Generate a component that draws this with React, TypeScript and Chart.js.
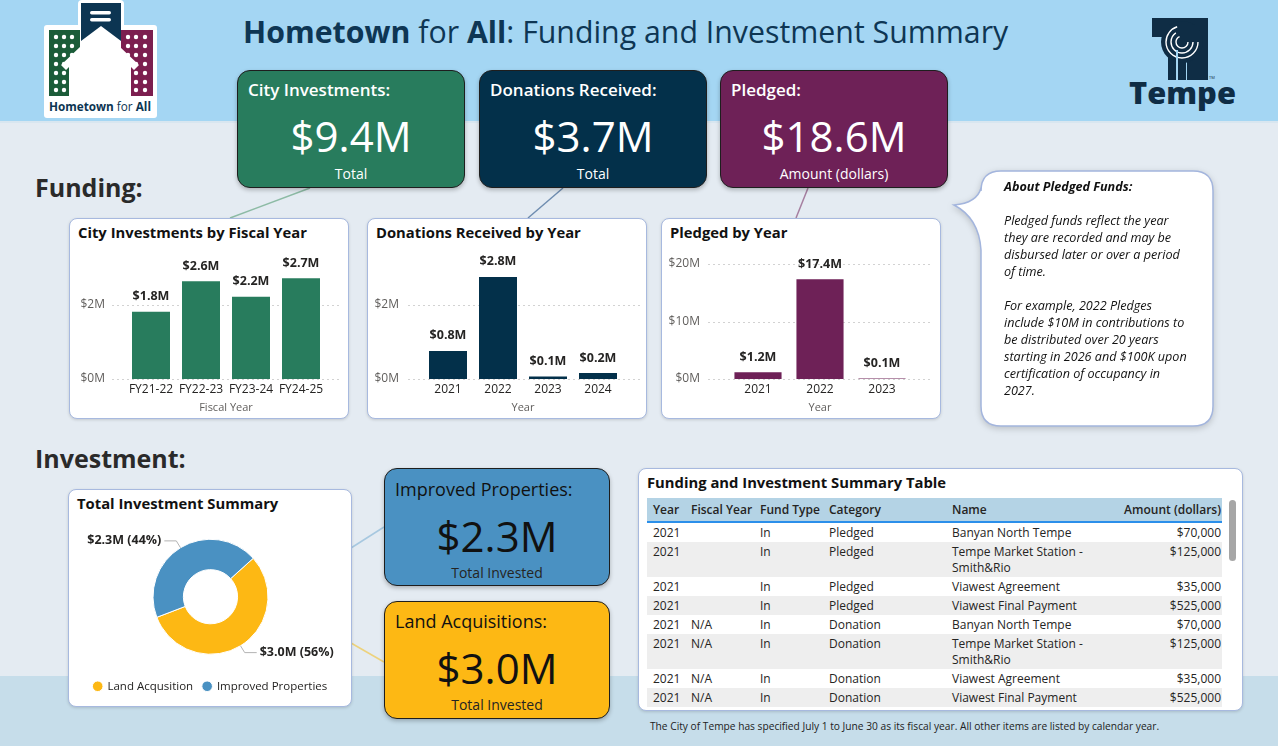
import React, { useEffect, useRef } from "react";
import { Chart, registerables } from "chart.js";

Chart.register(...registerables);

const FONT = "'Open Sans', 'Noto Sans', 'DejaVu Sans', sans-serif";

// ---------------- Data ----------------
const cityFiscalYears = ["FY21-22", "FY22-23", "FY23-24", "FY24-25"];
const cityInvestments = [1.82, 2.64, 2.22, 2.72]; // $M
const cityTicks = [0, 2];

const donationYears = ["2021", "2022", "2023", "2024"];
const donationsReceived = [0.76, 2.76, 0.07, 0.16]; // $M
const donationTicks = [0, 2];

const pledgedYears = ["2021", "2022", "2023"];
const pledgedAmounts = [1.17, 17.36, 0.07]; // $M
const pledgedTicks = [0, 10, 20];

const investmentCategories = ["Land Acqusition", "Improved Properties"];
const investmentAmounts = [2.96, 2.34]; // $M

const fundingKpiTitles = ["City Investments:", "Donations Received:", "Pledged:"];
const fundingKpiValues = ["$9.4M", "$3.7M", "$18.6M"];
const fundingKpiSubtitles = ["Total", "Total", "Amount (dollars)"];

const investKpiTitles = ["Improved Properties:", "Land Acquisitions:"];
const investKpiValues = ["$2.3M", "$3.0M"];
const investKpiSubtitles = ["Total Invested", "Total Invested"];

const tableHeaders = ["Year", "Fiscal Year", "Fund Type", "Category", "Name", "Amount (dollars)"];
const rowYears = ["2021", "2021", "2021", "2021", "2021", "2021", "2021", "2021"];
const rowFiscalYears = ["", "", "", "", "N/A", "N/A", "N/A", "N/A"];
const rowFundTypes = ["In", "In", "In", "In", "In", "In", "In", "In"];
const rowCategories = ["Pledged", "Pledged", "Pledged", "Pledged", "Donation", "Donation", "Donation", "Donation"];
const rowNames = [
  "Banyan North Tempe",
  "Tempe Market Station - Smith&Rio",
  "Viawest Agreement",
  "Viawest Final Payment",
  "Banyan North Tempe",
  "Tempe Market Station - Smith&Rio",
  "Viawest Agreement",
  "Viawest Final Payment",
];
const rowAmounts = [70000, 125000, 35000, 525000, 70000, 125000, 35000, 525000];

const noteTitle = "About Pledged Funds:";
const noteLines = [
  "",
  "Pledged funds reflect the year",
  "they are recorded and may be",
  "disbursed later or over a period",
  "of time.",
  "",
  "For example, 2022 Pledges",
  "include $10M in contributions to",
  "be distributed over 20 years",
  "starting in 2026 and $100K upon",
  "certification of occupancy in",
  "2027.",
];

const footnote =
  "The City of Tempe has specified July 1 to June 30 as its fiscal year. All other items are listed by calendar year.";

// ---------------- Colors ----------------
const GREEN = "#287C5D";
const NAVY = "#03304A";
const PURPLE = "#6E2157";
const BLUE = "#4A91C2";
const YELLOW = "#FDB814";
const TEXT = "#252423";

// ---------------- Plugins ----------------
const dashedGridPlugin = {
  id: "dashedGrid",
  beforeDatasetsDraw(chart: any, _args: any, opts: any) {
    const ctx = chart.ctx;
    const ys = chart.scales.y;
    const { left, right } = chart.chartArea;
    ctx.save();
    ctx.strokeStyle = "#D2D2D2";
    ctx.lineWidth = 1;
    ctx.setLineDash([2, 3]);
    ys.ticks.forEach((t: any) => {
      const py = Math.round(ys.getPixelForValue(t.value)) + 0.5;
      ctx.beginPath();
      ctx.moveTo(left - (opts.extL || 0), py);
      ctx.lineTo(right + (opts.extR || 0), py);
      ctx.stroke();
    });
    ctx.restore();
  },
};

const barLabelPlugin = {
  id: "barLabels",
  afterDatasetsDraw(chart: any) {
    const ctx = chart.ctx;
    const meta = chart.getDatasetMeta(0);
    const data = chart.data.datasets[0].data as number[];
    ctx.save();
    ctx.font = `bold 12.5px ${FONT}`;
    ctx.fillStyle = TEXT;
    ctx.textAlign = "center";
    ctx.textBaseline = "middle";
    meta.data.forEach((bar: any, i: number) => {
      ctx.fillText("$" + data[i].toFixed(1) + "M", bar.x, bar.y - 15);
    });
    ctx.restore();
  },
};

const donutLabelPlugin = {
  id: "donutLabels",
  afterDatasetsDraw(chart: any) {
    const ctx = chart.ctx;
    const meta = chart.getDatasetMeta(0);
    const data = chart.data.datasets[0].data as number[];
    const total = data.reduce((a, b) => a + b, 0);
    ctx.save();
    ctx.font = `bold 12.5px ${FONT}`;
    ctx.fillStyle = TEXT;
    ctx.textBaseline = "middle";
    meta.data.forEach((arc: any, i: number) => {
      const p = arc.getProps(["x", "y", "startAngle", "endAngle", "outerRadius"], true);
      const mid = (p.startAngle + p.endAngle) / 2;
      const c = Math.cos(mid);
      const s = Math.sin(mid);
      const x0 = p.x + c * p.outerRadius;
      const y0 = p.y + s * p.outerRadius;
      const x1 = p.x + c * (p.outerRadius + 8);
      const y1 = p.y + s * (p.outerRadius + 8);
      const right = c >= 0;
      const x2 = x1 + (right ? 12 : -12);
      ctx.strokeStyle = "#B3B3B3";
      ctx.lineWidth = 1;
      ctx.beginPath();
      ctx.moveTo(x0, y0);
      ctx.lineTo(x1, y1);
      ctx.lineTo(x2, y1);
      ctx.stroke();
      const pct = Math.round((data[i] / total) * 100);
      ctx.textAlign = right ? "left" : "right";
      ctx.fillText(`$${data[i].toFixed(1)}M (${pct}%)`, x2 + (right ? 3 : -3), y1);
    });
    ctx.restore();
  },
};

// ---------------- Components ----------------
type Box = { left: number; top: number; w: number; h: number };
type Area = { left: number; right: number; top: number; bottom: number };

function BarChart(props: {
  labels: string[];
  values: number[];
  ticks: number[];
  color: string;
  yMax: number;
  axisTitle: string;
  box: Box;
  area: Area;
  ext: [number, number];
  tickPad: number;
}) {
  const ref = useRef<HTMLCanvasElement | null>(null);
  useEffect(() => {
    const { labels, values, ticks, color, yMax, axisTitle, box, area, ext, tickPad } = props;
    const chart = new Chart(ref.current as HTMLCanvasElement, {
      type: "bar",
      data: {
        labels,
        datasets: [
          {
            data: values,
            backgroundColor: color,
            borderWidth: 0,
            barPercentage: 0.76,
            categoryPercentage: 1,
          },
        ],
      },
      options: {
        animation: false,
        responsive: false,
        maintainAspectRatio: false,
        layout: {
          padding: {
            top: area.top - box.top,
            right: box.left + box.w - area.right,
            left: 0,
            bottom: 0,
          },
        },
        plugins: {
          legend: { display: false },
          tooltip: { enabled: false },
          dashedGrid: { extL: ext[0], extR: ext[1] },
        } as any,
        scales: {
          x: {
            grid: { display: false, drawTicks: false },
            border: { display: false },
            ticks: {
              color: TEXT,
              font: { family: FONT, size: 12 },
              padding: 3,
              maxRotation: 0,
              autoSkip: false,
            },
            title: {
              display: true,
              text: axisTitle,
              color: "#605E5C",
              font: { family: FONT, size: 11 },
              padding: { top: 0, bottom: 2 },
            },
            afterFit: (s: any) => {
              s.height = box.top + box.h - area.bottom;
              s.paddingLeft = 0;
              s.paddingRight = 0;
            },
          },
          y: {
            min: 0,
            max: yMax,
            grid: { display: false, drawTicks: false },
            border: { display: false },
            ticks: {
              color: "#605E5C",
              font: { family: FONT, size: 12 },
              padding: tickPad,
              callback: (v: any) => "$" + v + "M",
            },
            afterBuildTicks: (s: any) => {
              s.ticks = ticks.map((v) => ({ value: v }));
            },
            afterFit: (s: any) => {
              s.width = area.left - box.left;
              s.paddingTop = 0;
              s.paddingBottom = 0;
            },
          },
        },
      } as any,
      plugins: [dashedGridPlugin, barLabelPlugin],
    });
    return () => chart.destroy();
  }, []);
  const { box } = props;
  return (
    <canvas
      ref={ref}
      width={box.w}
      height={box.h}
      style={{ position: "absolute", left: box.left, top: box.top, width: box.w, height: box.h }}
    />
  );
}

function DonutChart() {
  const ref = useRef<HTMLCanvasElement | null>(null);
  const box = { left: 70, top: 522, w: 281, h: 180 };
  useEffect(() => {
    const chart = new Chart(ref.current as HTMLCanvasElement, {
      type: "doughnut",
      data: {
        labels: investmentCategories,
        datasets: [
          {
            data: investmentAmounts,
            backgroundColor: [YELLOW, BLUE],
            borderColor: "#FFFFFF",
            borderWidth: 1,
          },
        ],
      },
      options: {
        animation: false,
        responsive: false,
        maintainAspectRatio: false,
        radius: 57.5,
        cutout: 34.5,
        rotation: 48,
        layout: { padding: { top: 1 } },
        plugins: {
          tooltip: { enabled: false },
          legend: {
            position: "bottom",
            labels: {
              usePointStyle: true,
              pointStyle: "circle",
              boxWidth: 8,
              boxHeight: 7.5,
              color: TEXT,
              font: { family: FONT, size: 11.5 },
              padding: 10,
            },
          },
        },
      } as any,
      plugins: [donutLabelPlugin],
    });
    return () => chart.destroy();
  }, []);
  return (
    <canvas
      ref={ref}
      width={box.w}
      height={box.h}
      style={{ position: "absolute", left: box.left, top: box.top, width: box.w, height: box.h }}
    />
  );
}

function Card(props: { x: number; y: number; w: number; h: number; title?: string; children?: any }) {
  return (
    <div
      style={{
        position: "absolute",
        left: props.x,
        top: props.y,
        width: props.w,
        height: props.h,
        boxSizing: "border-box",
        background: "#FFFFFF",
        border: "1px solid #A7B9DF",
        borderRadius: 8,
        boxShadow: "0 1px 3px rgba(0,0,0,0.15)",
      }}
    >
      {props.title ? (
        <div
          style={{
            position: "absolute",
            left: 8,
            top: 3,
            lineHeight: "20px",
            fontFamily: FONT,
            fontWeight: 700,
            fontSize: 14.8,
            color: "#111",
            whiteSpace: "nowrap",
          }}
        >
          {props.title}
        </div>
      ) : null}
    </div>
  );
}

function Kpi(props: {
  x: number;
  y: number;
  w: number;
  h: number;
  bg: string;
  fg: string;
  subFg: string;
  title: string;
  value: string;
  sub: string;
  titleWeight: number;
  titleSize: number;
  offsets: [number, number, number];
}) {
  const { x, y, w, h, bg, fg, subFg, title, value, sub, titleWeight, titleSize, offsets } = props;
  return (
    <div
      style={{
        position: "absolute",
        left: x,
        top: y,
        width: w,
        height: h,
        boxSizing: "border-box",
        background: bg,
        border: "1px solid #1E1E1E",
        borderRadius: 13,
        boxShadow: "0 2px 4px rgba(0,0,0,0.25)",
        fontFamily: FONT,
      }}
    >
      <div
        style={{
          position: "absolute",
          left: 10,
          top: offsets[0] - 12,
          lineHeight: "24px",
          fontSize: titleSize,
          fontWeight: titleWeight,
          color: fg,
          whiteSpace: "nowrap",
        }}
      >
        {title}
      </div>
      <div
        style={{
          position: "absolute",
          left: 0,
          width: w - 2,
          textAlign: "center",
          top: offsets[1] - 30,
          lineHeight: "60px",
          fontSize: 42,
          fontWeight: 400,
          color: fg,
          whiteSpace: "nowrap",
        }}
      >
        {value}
      </div>
      <div
        style={{
          position: "absolute",
          left: 0,
          width: w - 2,
          textAlign: "center",
          top: offsets[2] - 10,
          lineHeight: "20px",
          fontSize: 14,
          color: subFg,
          whiteSpace: "nowrap",
        }}
      >
        {sub}
      </div>
    </div>
  );
}

function HometownLogo() {
  const winCols1 = [56, 64, 72];
  const winCols2 = [128, 136, 145];
  const winRows = [37, 46, 55, 64, 73, 82, 90];
  return (
    <svg width={170} height={122} style={{ position: "absolute", left: 0, top: 0 }}>
      <rect x={44} y={25} width={113} height={93} rx={3} fill="#FFFFFF" />
      <rect x={78} y={0} width={46} height={46} rx={4} fill="#FFFFFF" />
      <rect x={49} y={30} width={31} height={66} fill="#1B5C39" />
      <rect x={121} y={30} width={32} height={66} fill="#7C1E4F" />
      {winRows.map((r) =>
        winCols1.map((c) => <circle key={`g${r}-${c}`} cx={c} cy={r} r={2.2} fill="#FFFFFF" />)
      )}
      {winRows.map((r) =>
        winCols2.map((c) => <circle key={`p${r}-${c}`} cx={c} cy={r} r={2.2} fill="#FFFFFF" />)
      )}
      <polygon points="61,65 100,28 139,65 134,70 131,67 131,96 69,96 69,67 66,70" fill="#FFFFFF" />
      <polygon points="81,3 121,3 121,41 101,26 81,41" fill="#0C3552" />
      <rect x={90} y={11} width={21} height={3.5} rx={1.7} fill="#FFFFFF" />
      <rect x={90} y={18} width={21} height={3.5} rx={1.7} fill="#FFFFFF" />
      <text
        x={49}
        y={111}
        textLength={102}
        lengthAdjust="spacingAndGlyphs"
        fontFamily={FONT}
        fontSize={12.5}
        fill="#0C3552"
      >
        <tspan fontWeight={700}>Hometown</tspan>
        <tspan> for </tspan>
        <tspan fontWeight={700}>All</tspan>
      </text>
    </svg>
  );
}

function TempeLogo() {
  const c = "#0F2D45";
  return (
    <svg width={140} height={120} style={{ position: "absolute", left: 1115, top: 0 }}>
      <g transform="translate(-1115,0)">
        <rect x={1152} y={18} width={56} height={19} fill={c} />
        <rect x={1187} y={18} width={21} height={62} fill={c} />
        <rect x={1168} y={37} width={8} height={43} fill={c} />
        <rect x={1178} y={37} width={8} height={43} fill={c} />
        <circle cx={1182} cy={42} r={21} fill={c} />
        <circle cx={1182} cy={42} r={16} fill="none" stroke="#FFFFFF" strokeWidth={1.4} strokeDasharray="70 30" />
        <circle cx={1182} cy={42} r={11} fill="none" stroke="#FFFFFF" strokeWidth={1.4} strokeDasharray="45 25" />
        <circle cx={1182} cy={42} r={6} fill="none" stroke="#FFFFFF" strokeWidth={1.4} strokeDasharray="25 12" />
        <rect x={1176} y={50} width={2} height={30} fill="#A4D6F3" />
        <text x={1209} y={79} fontFamily={FONT} fontSize={4} fill={c}>
          TM
        </text>
        <text
          x={1129}
          y={104}
          textLength={107}
          lengthAdjust="spacingAndGlyphs"
          fontFamily={FONT}
          fontWeight={800}
          fontSize={30}
          fill={c}
        >
          Tempe
        </text>
      </g>
    </svg>
  );
}

function NoteBubble() {
  return (
    <>
      <svg
        width={280}
        height={270}
        style={{
          position: "absolute",
          left: 945,
          top: 165,
          filter: "drop-shadow(0 2px 3px rgba(0,0,0,0.18))",
        }}
      >
        <g transform="translate(-945,-165)">
          <path
            d="M 1001 171 H 1193 Q 1213 171 1213 191 V 406 Q 1213 426 1193 426 H 1001 Q 981 426 981 406 V 250 Q 979 218 954 205 Q 977 203 981 188 V 191 Q 981 171 1001 171 Z"
            fill="#FFFFFF"
            stroke="#A3B5DD"
            strokeWidth={1.5}
          />
        </g>
      </svg>
      <div
        style={{
          position: "absolute",
          left: 1004,
          top: 178,
          fontFamily: FONT,
          fontStyle: "italic",
          fontSize: 12.6,
          lineHeight: "17px",
          color: "#111",
          whiteSpace: "nowrap",
        }}
      >
        <div style={{ fontWeight: 700 }}>{noteTitle}</div>
        {noteLines.map((l, i) => (
          <div key={i} style={{ height: 17 }}>
            {l}
          </div>
        ))}
      </div>
    </>
  );
}

function SummaryTable() {
  const widths = [40, 69, 69, 123, 165, 109];
  const cellBase: any = {
    padding: "2px 4px 1px 4px",
    lineHeight: "16px",
    verticalAlign: "top",
    fontFamily: FONT,
    fontSize: 12,
    color: "#252423",
    textAlign: "left",
  };
  return (
    <div
      style={{
        position: "absolute",
        left: 647,
        top: 498,
        width: 575,
        height: 209,
        overflow: "hidden",
      }}
    >
      <table style={{ borderCollapse: "collapse", tableLayout: "fixed", width: 575 }}>
        <colgroup>
          {widths.map((w, i) => (
            <col key={i} style={{ width: w }} />
          ))}
        </colgroup>
        <thead>
          <tr style={{ background: "#B4D3E5", height: 24 }}>
            {tableHeaders.map((h, i) => (
              <th
                key={h}
                style={{
                  ...cellBase,
                  padding: i === 0 ? "0 4px 0 6px" : i === 5 ? "0 1px 0 4px" : "0 4px",
                  fontWeight: 600,
                  verticalAlign: "middle",
                  textAlign: i === 5 ? "right" : "left",
                  whiteSpace: "nowrap",
                  borderBottom: "2px solid #2B8FEA",
                }}
              >
                {h}
              </th>
            ))}
          </tr>
        </thead>
        <tbody>
          {rowYears.map((y, r) => {
            const cells = [
              y,
              rowFiscalYears[r],
              rowFundTypes[r],
              rowCategories[r],
              rowNames[r],
              "$" + rowAmounts[r].toLocaleString("en-US"),
            ];
            return (
              <tr key={r} style={{ background: r % 2 === 0 ? "#FFFFFF" : "#EEEEEE" }}>
                {cells.map((c, i) => (
                  <td
                    key={i}
                    style={{
                      ...cellBase,
                      padding: i === 0 ? "2px 4px 1px 6px" : i === 5 ? "2px 1px 1px 4px" : "2px 4px 1px 4px",
                      textAlign: i === 5 ? "right" : "left",
                    }}
                  >
                    {c}
                  </td>
                ))}
              </tr>
            );
          })}
        </tbody>
      </table>
    </div>
  );
}

function TextAt(props: { x: number; y: number; size: number; weight?: number; color?: string; children: any }) {
  return (
    <div
      style={{
        position: "absolute",
        left: props.x,
        top: props.y - props.size * 0.75,
        lineHeight: `${props.size * 1.5}px`,
        fontFamily: FONT,
        fontSize: props.size,
        fontWeight: props.weight || 400,
        color: props.color || "#222",
        whiteSpace: "nowrap",
      }}
    >
      {props.children}
    </div>
  );
}

export default function App() {
  return (
    <div
      style={{
        position: "absolute",
        left: 0,
        top: 0,
        width: 1278,
        height: 746,
        overflow: "hidden",
        background: "#E4EBF2",
        fontFamily: FONT,
      }}
    >
      {/* bands */}
      <div style={{ position: "absolute", left: 0, top: 0, width: 1278, height: 121, background: "#A4D6F3" }} />
      <div style={{ position: "absolute", left: 0, top: 121, width: 1278, height: 2, background: "#D8E6F0" }} />
      <div style={{ position: "absolute", left: 0, top: 676, width: 1278, height: 70, background: "#C6DDEA" }} />

      <HometownLogo />
      <TempeLogo />

      {/* title */}
      <div
        style={{
          position: "absolute",
          left: 243,
          top: 11,
          lineHeight: "42px",
          fontSize: 30.3,
          color: "#0E3654",
          whiteSpace: "nowrap",
          fontFamily: FONT,
        }}
      >
        <span style={{ fontWeight: 700 }}>Hometown</span> for <span style={{ fontWeight: 700 }}>All</span>: Funding
        and Investment Summary
      </div>

      {/* connector lines */}
      <svg width={1278} height={746} style={{ position: "absolute", left: 0, top: 0 }}>
        <line x1={310} y1={188} x2={230} y2={218} stroke="#8DBBA5" strokeWidth={1.5} />
        <line x1={563} y1={188} x2={528} y2={218} stroke="#6F8DB0" strokeWidth={1.5} />
        <line x1={808} y1={188} x2={796} y2={218} stroke="#A67FA0" strokeWidth={1.5} />
        <line x1={351} y1={548} x2={384} y2={527} stroke="#A7C8E0" strokeWidth={1.5} />
        <line x1={351} y1={643} x2={384} y2={662} stroke="#EDD27C" strokeWidth={1.5} />
      </svg>

      {/* section labels */}
      <TextAt x={35} y={188} size={25} weight={700} color="#2A2A2A">
        Funding:
      </TextAt>
      <TextAt x={35} y={459} size={25} weight={700} color="#2A2A2A">
        Investment:
      </TextAt>

      {/* funding KPIs */}
      {[237, 479, 720].map((x, i) => (
        <Kpi
          key={i}
          x={x}
          y={70}
          w={228}
          h={118}
          bg={[GREEN, NAVY, PURPLE][i]}
          fg="#FFFFFF"
          subFg="#FFFFFF"
          title={fundingKpiTitles[i]}
          value={fundingKpiValues[i]}
          sub={fundingKpiSubtitles[i]}
          titleWeight={600}
          titleSize={17}
          offsets={[19, 65, 103]}
        />
      ))}

      {/* chart cards */}
      <Card x={69} y={218} w={280} h={201} title="City Investments by Fiscal Year" />
      <Card x={367} y={218} w={280} h={201} title="Donations Received by Year" />
      <Card x={661} y={218} w={280} h={201} title="Pledged by Year" />

      <BarChart
        labels={cityFiscalYears}
        values={cityInvestments}
        ticks={cityTicks}
        color={GREEN}
        yMax={3}
        axisTitle="Fiscal Year"
        box={{ left: 70, top: 245, w: 277, h: 171 }}
        area={{ left: 126, right: 326, top: 268, bottom: 379 }}
        ext={[14, 16]}
        tickPad={21}
      />
      <BarChart
        labels={donationYears}
        values={donationsReceived}
        ticks={donationTicks}
        color={NAVY}
        yMax={3}
        axisTitle="Year"
        box={{ left: 368, top: 245, w: 277, h: 171 }}
        area={{ left: 423, right: 623, top: 268, bottom: 379 }}
        ext={[15, 17]}
        tickPad={24}
      />
      <BarChart
        labels={pledgedYears}
        values={pledgedAmounts}
        ticks={pledgedTicks}
        color={PURPLE}
        yMax={20}
        axisTitle="Year"
        box={{ left: 662, top: 245, w: 277, h: 171 }}
        area={{ left: 727, right: 913, top: 264, bottom: 379 }}
        ext={[19, 19]}
        tickPad={27}
      />

      <NoteBubble />

      {/* investment */}
      <Card x={68} y={489} w={284} h={218} title="Total Investment Summary" />
      <DonutChart />

      {[468, 601].map((y, i) => (
        <Kpi
          key={i}
          x={384}
          y={y}
          w={226}
          h={118}
          bg={[BLUE, YELLOW][i]}
          fg="#111111"
          subFg="#252423"
          title={investKpiTitles[i]}
          value={investKpiValues[i]}
          sub={investKpiSubtitles[i]}
          titleWeight={400}
          titleSize={18}
          offsets={i === 0 ? [20, 67, 104] : [19, 66, 103]}
        />
      ))}

      {/* table */}
      <Card x={638} y={468} w={605} h={243} title="Funding and Investment Summary Table" />
      <SummaryTable />
      <div
        style={{
          position: "absolute",
          left: 1229,
          top: 500,
          width: 7,
          height: 61,
          borderRadius: 4,
          background: "#A6A6A6",
        }}
      />

      <div
        style={{
          position: "absolute",
          left: 650,
          top: 718,
          lineHeight: "16px",
          fontSize: 10.2,
          color: "#222",
          whiteSpace: "nowrap",
          fontFamily: FONT,
        }}
      >
        {footnote}
      </div>
    </div>
  );
}
